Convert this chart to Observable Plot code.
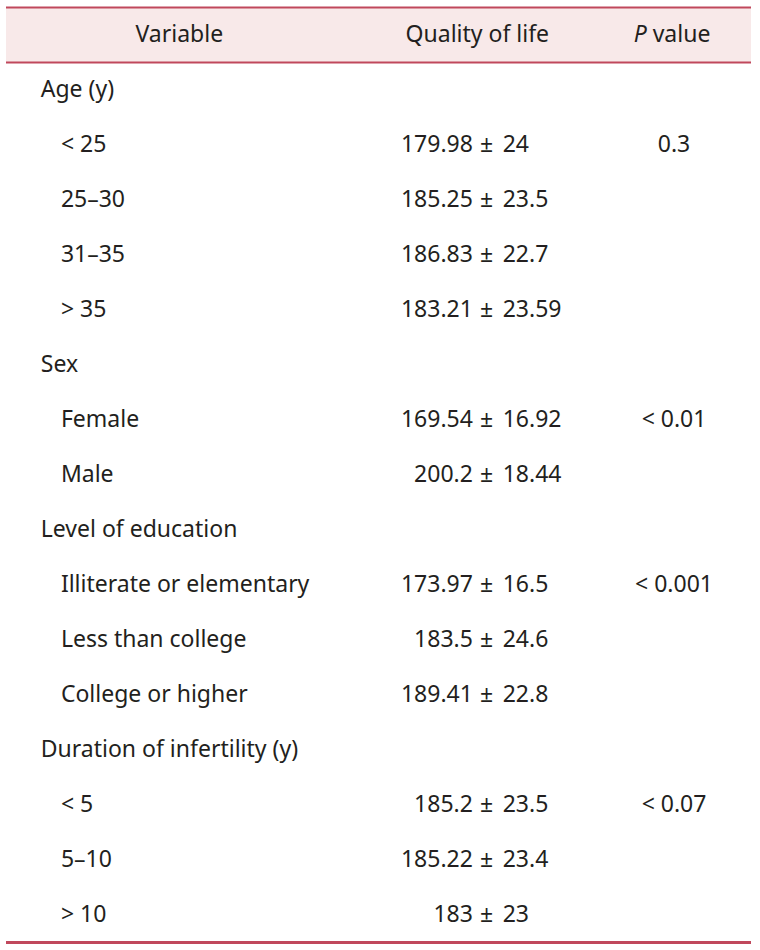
<!DOCTYPE html>
<html>
<head>
<meta charset="utf-8">
<script src="https://cdn.jsdelivr.net/npm/d3@7"></script>
<script src="https://cdn.jsdelivr.net/npm/@observablehq/plot@0.6"></script>
<style>
  html, body { margin: 0; padding: 0; background: #fff; }
  #chart svg { display: block; }
</style>
</head>
<body>
<div id="chart"></div>
<script>
// ---- data ----
const headers = ["Variable", "Quality of life", "P value"];
const labels = ["Age (y)", "< 25", "25\u201330", "31\u201335", "> 35",
  "Sex", "Female", "Male",
  "Level of education", "Illiterate or elementary", "Less than college", "College or higher",
  "Duration of infertility (y)", "< 5", "5\u201310", "> 10"];
const levels = [0, 1, 1, 1, 1, 0, 1, 1, 0, 1, 1, 1, 0, 1, 1, 1];
const means = [null, "179.98", "185.25", "186.83", "183.21", null, "169.54", "200.2",
  null, "173.97", "183.5", "189.41", null, "185.2", "185.22", "183"];
const sds = [null, "24", "23.5", "22.7", "23.59", null, "16.92", "18.44",
  null, "16.5", "24.6", "22.8", null, "23.5", "23.4", "23"];
const pValues = [null, "0.3", null, null, null, null, "< 0.01", null,
  null, "< 0.001", null, null, null, "< 0.07", null, null];

const rows = labels.map((label, i) => ({
  row: i + 1, label, level: levels[i], mean: means[i], sd: sds[i], p: pValues[i]
}));
const nRows = rows.length + 1;

// column anchor positions (x scale units 0..100 across the table)
const col = {group: 4.6, sub: 7.3, mean: 62.6, pm: 64.45, sd: 66.6, p: 89.6, h0: 23.2, h1: 63.2, h2: 89.4};

const font = "'Noto Sans', 'Open Sans', sans-serif";
const ink = "#231f20";
const lineColor = "#c0485c";
const fs = 23;

const plot = Plot.plot({
  width: 760,
  height: 950,
  margin: 0,
  style: {fontFamily: font, background: "#fff"},
  x: {type: "linear", domain: [0, 100], range: [6, 751], axis: null},
  y: {type: "linear", domain: [0, nRows], range: [7, 942], axis: null},
  marks: [
    // header band
    Plot.rect([0], {x1: 0, x2: 100, y1: 0, y2: 1, fill: "#f8e9e9"}),
    Plot.ruleY([0, 1], {x1: 0, x2: 100, stroke: lineColor, strokeWidth: 2}),
    Plot.ruleY([nRows], {x1: 0, x2: 100, stroke: lineColor, strokeWidth: 3}),
    // header texts
    Plot.text(headers.slice(0, 2), {
      x: (d, i) => [col.h0, col.h1][i], y: 0.5, text: d => d,
      fontSize: fs, fill: ink, textAnchor: "middle"
    }),
    // row labels
    Plot.text(rows, {
      x: d => d.level === 0 ? col.group : col.sub, y: d => d.row + 0.5,
      text: "label", textAnchor: "start", fontSize: fs, fill: ink
    }),
    // quality of life: mean ± sd, aligned on ±
    Plot.text(rows.filter(d => d.mean), {
      x: col.mean, y: d => d.row + 0.5, text: "mean", textAnchor: "end", fontSize: fs, fill: ink
    }),
    Plot.text(rows.filter(d => d.mean), {
      x: col.pm, y: d => d.row + 0.5, text: () => "\u00b1", textAnchor: "middle", fontSize: fs, fill: ink
    }),
    Plot.text(rows.filter(d => d.sd), {
      x: col.sd, y: d => d.row + 0.5, text: "sd", textAnchor: "start", fontSize: fs, fill: ink
    }),
    // p values
    Plot.text(rows.filter(d => d.p), {
      x: col.p, y: d => d.row + 0.5, text: "p", textAnchor: "middle", fontSize: fs, fill: ink
    })
  ]
});

// P value header with italic P
const svg = d3.select(plot);
const hy = plot.scale("y").apply(0.5);
const hx = plot.scale("x").apply(col.h2);
const t = svg.append("text")
  .attr("x", hx).attr("y", hy).attr("dy", "0.32em")
  .attr("text-anchor", "middle")
  .attr("font-size", fs).attr("fill", ink).attr("font-family", font);
t.append("tspan").attr("font-style", "italic").text("P");
t.append("tspan").text(" value");

document.getElementById("chart").appendChild(plot);
</script>
</body>
</html>
